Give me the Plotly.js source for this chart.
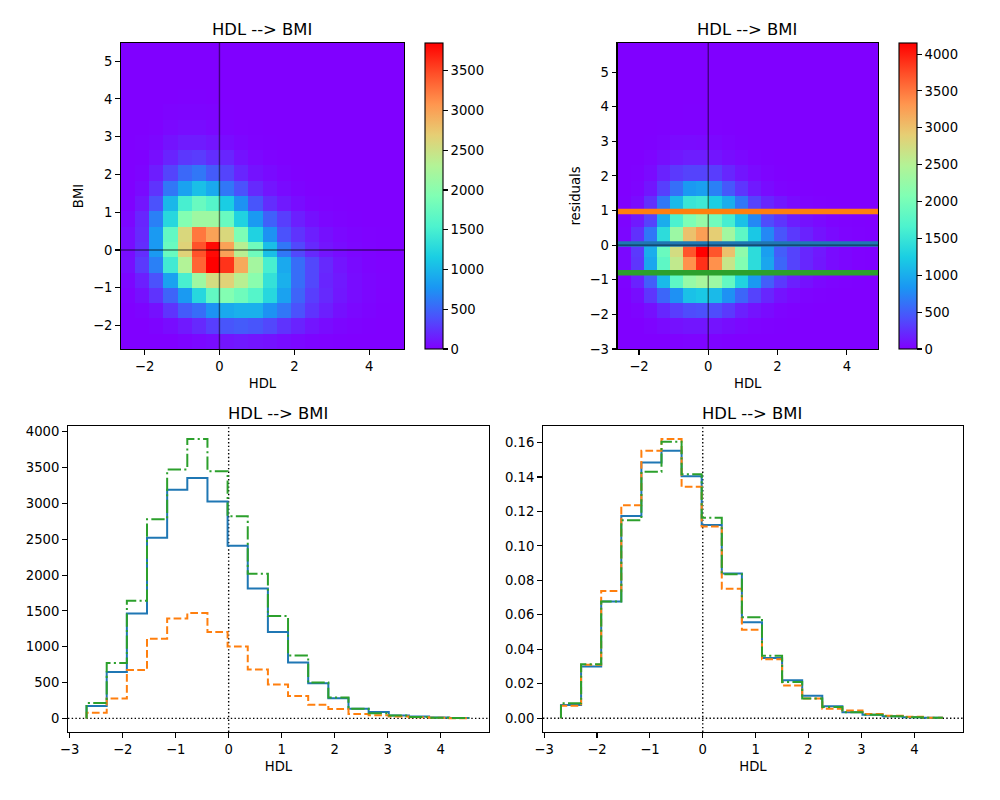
<!DOCTYPE html>
<html><head><meta charset="utf-8">
<script src="https://cdn.plot.ly/plotly-3.0.1.min.js"></script>
<style>html,body{margin:0;padding:0;background:#fff}</style></head>
<body><div id="chart" style="width:1000px;height:800px"></div>
<script>
const titleText = "HDL --> BMI";
const rainbow = [[0,"rgb(128,0,255)"],[0.1,"rgb(77,79,252)"],[0.2,"rgb(26,150,243)"],[0.3,"rgb(26,206,227)"],[0.4,"rgb(77,243,206)"],[0.5,"rgb(128,255,180)"],[0.6,"rgb(179,243,150)"],[0.7,"rgb(230,206,116)"],[0.8,"rgb(255,150,79)"],[0.9,"rgb(255,79,40)"],[1,"rgb(255,0,0)"]];

const xEdgesA = [-2.63,-2.252,-1.874,-1.496,-1.118,-0.74,-0.362,0.016,0.394,0.772,1.15,1.528,1.906,2.284,2.662,3.04,3.418,3.796,4.174,4.552,4.93];
const yEdgesA = [-2.62,-2.215,-1.81,-1.405,-1.0,-0.595,-0.19,0.215,0.62,1.025,1.43,1.835,2.24,2.645,3.05,3.455,3.86,4.265,4.67,5.075,5.48];
const zA = [
[0,0,0,0,20,40,60,100,120,100,90,60,40,20,10,5,0,0,0,0],
[0,0,20,60,120,200,300,420,450,420,350,250,170,100,60,30,15,5,0,0],
[0,20,80,250,450,550,750,900,950,950,750,600,400,250,150,80,40,20,5,0],
[10,80,250,500,800,1250,1700,1950,1800,1600,1250,850,500,300,200,110,60,30,10,5],
[30,150,400,850,1500,2150,2550,2650,2350,2000,1350,950,550,350,180,120,60,30,15,5],
[70,280,650,1450,2300,3350,3850,3600,2950,2200,1500,900,550,350,200,100,50,20,10,5],
[60,220,800,1750,2650,3450,3800,3000,2350,1800,1050,600,350,200,100,60,30,15,5,0],
[60,200,800,1700,2600,3250,3000,2600,1900,1200,750,400,250,150,80,40,20,10,5,0],
[30,180,650,1250,1950,2150,2150,1750,1200,800,480,300,150,80,30,15,5,0,0,0],
[5,100,400,1000,1500,1750,1600,1150,750,420,220,120,60,20,10,5,0,0,0,0],
[0,50,250,600,850,1050,900,600,400,200,100,50,20,5,0,0,0,0,0,0],
[0,20,140,330,520,600,450,330,180,90,50,20,5,0,0,0,0,0,0,0],
[0,5,70,170,270,290,220,180,90,40,15,5,0,0,0,0,0,0,0,0],
[0,10,30,90,130,130,100,60,30,10,5,0,0,0,0,0,0,0,0,0],
[0,0,10,40,60,60,40,20,10,5,0,0,0,0,0,0,0,0,0,0],
[0,0,0,15,20,20,15,5,0,0,0,0,0,0,0,0,0,0,0,0],
[0,0,0,0,5,5,0,0,0,0,0,0,0,0,0,0,0,0,0,0],
[0,0,0,0,0,0,0,0,0,0,0,0,0,0,0,0,0,0,0,0],
[0,0,0,0,0,0,0,0,0,0,0,0,0,0,0,0,0,0,0,0],
[0,0,0,0,0,0,0,0,0,0,0,0,0,0,0,0,0,0,0,0]];

const xEdgesB = [-2.62,-2.244,-1.868,-1.492,-1.116,-0.74,-0.364,0.012,0.388,0.764,1.14,1.516,1.892,2.268,2.644,3.02,3.396,3.772,4.148,4.524,4.9];
const yEdgesB = [-3,-2.558,-2.116,-1.674,-1.232,-0.79,-0.348,0.094,0.536,0.978,1.42,1.862,2.304,2.746,3.188,3.63,4.072,4.514,4.956,5.398,5.84];
const zB = [
[0,0,0,0,10,20,20,15,5,0,0,0,0,0,0,0,0,0,0,0],
[0,0,20,50,90,110,110,100,70,40,20,10,5,0,0,0,0,0,0,0],
[0,20,80,200,320,400,420,400,300,170,100,60,20,10,5,0,0,0,0,0],
[5,70,280,550,800,1150,1200,1100,800,550,350,200,100,50,20,10,5,0,0,0],
[15,180,500,1100,1800,2250,2400,2300,1850,1300,850,500,300,170,90,40,20,10,5,0],
[40,280,950,1800,2600,3350,3900,3350,2650,2100,1400,950,550,350,200,120,60,30,10,5],
[40,300,1000,1900,2750,3700,4150,3700,3000,2200,1400,900,500,350,200,130,60,30,10,5],
[30,250,650,1400,2300,3000,3250,2900,2350,1800,1200,750,450,300,180,100,50,20,10,5],
[20,130,350,1000,1650,2050,2250,1950,1600,1150,750,400,280,160,90,50,20,10,5,0],
[5,60,250,650,1100,1500,1550,1250,1000,650,350,200,120,60,20,10,5,0,0,0],
[0,20,110,330,600,850,900,700,470,280,130,60,20,10,5,0,0,0,0,0],
[0,10,50,180,300,350,350,320,200,110,50,20,5,0,0,0,0,0,0,0],
[0,0,20,70,120,150,150,110,70,40,15,5,0,0,0,0,0,0,0,0],
[0,0,5,20,50,60,50,40,20,5,0,0,0,0,0,0,0,0,0,0],
[0,0,0,5,15,15,15,10,5,0,0,0,0,0,0,0,0,0,0,0],
[0,0,0,0,0,5,5,0,0,0,0,0,0,0,0,0,0,0,0,0],
[0,0,0,0,0,0,0,0,0,0,0,0,0,0,0,0,0,0,0,0],
[0,0,0,0,0,0,0,0,0,0,0,0,0,0,0,0,0,0,0,0],
[0,0,0,0,0,0,0,0,0,0,0,0,0,0,0,0,0,0,0,0],
[0,0,0,0,0,0,0,0,0,0,0,0,0,0,0,0,0,0,0,0]];

const residualLevels = {blue:0.03, orange:0.97, green:-0.8};

const stepEdges = [-2.68,-2.30,-1.92,-1.54,-1.16,-0.78,-0.40,-0.02,0.36,0.74,1.12,1.50,1.88,2.26,2.64,3.02,3.40,3.78,4.16,4.54];
const countBlue = [0,172,646,1465,2520,3190,3353,3027,2409,1813,1204,781,490,280,135,90,40,25,12,5];
const countOrange = [0,79,279,674,1111,1395,1469,1204,1004,683,474,311,190,130,60,45,25,15,8,3];
const countGreen = [0,214,772,1641,2780,3473,3900,3450,2822,2018,1427,879,500,290,135,70,40,20,10,4];
const densBlue = [0,.0077,.030,.0677,.1174,.1484,.1553,.1405,.1122,.084,.0557,.035,.022,.013,.007,.0035,.002,.0012,.0006,.0003];
const densOrange = [0,.0072,.031,.0739,.1236,.1553,.1621,.1343,.1112,.0751,.0513,.0342,.019,.0115,.0055,.0045,.0025,.0015,.0008,.0003];
const densGreen = [0,.0087,.0313,.0677,.1149,.143,.1604,.1416,.1163,.0836,.0586,.0362,.021,.0115,.0065,.0035,.002,.0011,.0005,.0002];

const tickFont = {family:"DejaVu Sans", size:13.2, color:"#000"};
const W = 1000, H = 800;
function axis(px0, px1, range, vals, title, standoff, isY){
  const dom = isY ? [1-px1/H, 1-px0/H] : [px0/W, px1/W];
  const a = {domain:dom, range:range, tickmode:"array", tickvals:vals, ticktext:vals.map(v=>String(v).replace("-","\u2212")),
    ticks:"outside", ticklen:4.9, tickwidth:1.1, tickcolor:"#000", showline:true, mirror:true, linecolor:"#000", linewidth:1.1,
    showgrid:false, zeroline:false, tickfont:tickFont, automargin:false};
  if(title) a.title = {text:title, font:tickFont, standoff:standoff};
  return a;
}
function heat(x,y,z,zmax,xa,ya,cbx,ticks){
  return {type:"heatmap", x:x, y:y, z:z, xaxis:xa, yaxis:ya, zmin:0, zmax:zmax, colorscale:rainbow, zsmooth:false, hoverinfo:"skip",
    colorbar:{x:cbx, xanchor:"left", xpad:0, ypad:0, thickness:17.5, thicknessmode:"pixels", len:306/H, lenmode:"fraction", y:1-349/H, yanchor:"bottom",
      tickmode:"array", tickvals:ticks, ticks:"outside", ticklen:4.9, tickwidth:1.1, tickcolor:"#000", tickfont:tickFont, outlinewidth:1.1, outlinecolor:"#000"}};
}
function ln(x,y,xa,ya,color,width,dash,opacity,shape){
  return {type:"scatter", mode:"lines", x:x, y:y, xaxis:xa, yaxis:ya, showlegend:false, hoverinfo:"skip", opacity:opacity||1,
    line:{color:color, width:width, dash:dash||"solid", shape:shape||"linear"}};
}
const dotted = "1.4px,2.3px", dashed = "7.7px,3.3px", dashdot = "13.3px,3.3px,2.1px,3.3px";
const rA = {x:[-2.63,4.93], y:[-2.62,5.48]}, rB = {x:[-2.62,4.9], y:[-3,5.84]};
const rC = {x:[-3.03,4.91], y:[-190,4080]}, rD = {x:[-3.02,4.92], y:[-0.008,0.1696]};

const traces = [
  heat(xEdgesA,yEdgesA,zA,3850,"x","y",425/W,[0,500,1000,1500,2000,2500,3000,3500]),
  ln([0,0],rA.y,"x","y","#000",1.4,null,0.5),
  ln(rA.x,[0,0],"x","y","#000",1.4,null,0.5),
  heat(xEdgesB,yEdgesB,zB,4150,"x2","y2",899/W,[0,500,1000,1500,2000,2500,3000,3500,4000]),
  ln(rB.x,[residualLevels.blue,residualLevels.blue],"x2","y2","#1f77b4",5.5),
  ln([0,0],rB.y,"x2","y2","#000",1.4,null,0.5),
  ln(rB.x,[0,0],"x2","y2","#000",1.4,null,0.5),
  ln(rB.x,[residualLevels.orange,residualLevels.orange],"x2","y2","#ff7f0e",5.5),
  ln(rB.x,[residualLevels.green,residualLevels.green],"x2","y2","#2ca02c",5.5),
  ln(rC.x,[0,0],"x3","y3","#000",1.4,dotted),
  ln([0,0],rC.y,"x3","y3","#000",1.4,dotted),
  ln(stepEdges,countBlue,"x3","y3","#1f77b4",2,null,1,"vh"),
  ln(stepEdges,countOrange,"x3","y3","#ff7f0e",2,dashed,1,"vh"),
  ln(stepEdges,countGreen,"x3","y3","#2ca02c",2,dashdot,1,"vh"),
  ln(rD.x,[0,0],"x4","y4","#000",1.4,dotted),
  ln([0,0],rD.y,"x4","y4","#000",1.4,dotted),
  ln(stepEdges,densBlue,"x4","y4","#1f77b4",2,null,1,"vh"),
  ln(stepEdges,densOrange,"x4","y4","#ff7f0e",2,dashed,1,"vh"),
  ln(stepEdges,densGreen,"x4","y4","#2ca02c",2,dashdot,1,"vh")
];

function ttl(xpx, ypx){
  return {text:titleText, xref:"paper", yref:"paper", x:xpx/W, y:1-ypx/H, xanchor:"center", yanchor:"middle", showarrow:false,
    font:{family:"DejaVu Sans", size:16.4, color:"#000"}};
}
const layout = {
  width:W, height:H, margin:{l:0,r:0,t:0,b:0,autoexpand:false}, paper_bgcolor:"#fff", plot_bgcolor:"#fff", showlegend:false,
  font:{family:"DejaVu Sans", color:"#000"},
  xaxis: Object.assign(axis(121,404,rA.x,[-2,0,2,4],"HDL",5,false),{anchor:"y"}),
  yaxis: Object.assign(axis(43,349,rA.y,[-2,-1,0,1,2,3,4,5],"BMI",6,true),{anchor:"x"}),
  xaxis2: Object.assign(axis(617.5,878,rB.x,[-2,0,2,4],"HDL",5,false),{anchor:"y2"}),
  yaxis2: Object.assign(axis(43,349,rB.y,[-3,-2,-1,0,1,2,3,4,5],"residuals",5,true),{anchor:"x2"}),
  xaxis3: Object.assign(axis(68,489,rC.x,[-3,-2,-1,0,1,2,3,4],"HDL",5,false),{anchor:"y3"}),
  yaxis3: Object.assign(axis(426,732,rC.y,[0,500,1000,1500,2000,2500,3000,3500,4000],null,6,true),{anchor:"x3"}),
  xaxis4: Object.assign(axis(543,963,rD.x,[-3,-2,-1,0,1,2,3,4],"HDL",5,false),{anchor:"y4"}),
  yaxis4: Object.assign(axis(426,732,rD.y,[0,0.02,0.04,0.06,0.08,0.1,0.12,0.14,0.16],null,6,true),{anchor:"x4",
    ticktext:["0.00","0.02","0.04","0.06","0.08","0.10","0.12","0.14","0.16"]}),
  annotations:[ttl(262,30),ttl(747,30),ttl(278,413),ttl(752,413)]
};
Plotly.newPlot("chart",traces,layout,{displayModeBar:false,staticPlot:true});
</script></body></html>
